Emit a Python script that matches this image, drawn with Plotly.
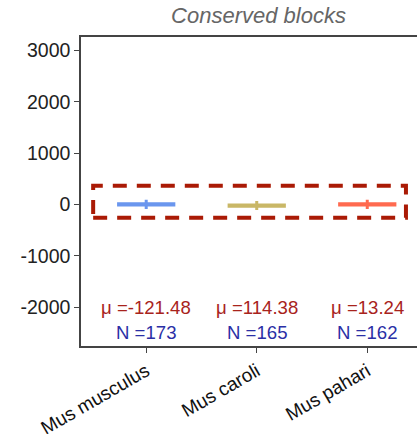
import plotly.graph_objects as go

species = ["Mus musculus", "Mus caroli", "Mus pahari"]
colors = ["#6A96EE", "#C9B766", "#FF6A4F"]
medians = [0, -25, 0]
q1s = [-12, -37, -12]
q3s = [12, -13, 12]
lower = [-90, -110, -90]
upper = [90, 65, 90]
means = ["-121.48", "114.38", "13.24"]
counts = [173, 165, 162]
y_ticks = [-2000, -1000, 0, 1000, 2000, 3000]
y_tick_labels = ["-2000", "-1000", "0", "1000", "2000", "3000"]

FONT = "Liberation Sans, Arial, Helvetica, sans-serif"

fig = go.Figure()
for i, sp in enumerate(species):
    fig.add_trace(go.Box(
        x=[i], q1=[q1s[i]], median=[medians[i]], q3=[q3s[i]],
        lowerfence=[lower[i]], upperfence=[upper[i]],
        name=sp, width=0.5, whiskerwidth=0,
        line=dict(color=colors[i], width=3),
        fillcolor=colors[i], showlegend=False, boxpoints=False,
        hoverinfo="skip",
    ))
    fig.add_annotation(x=i, y=-2000, text="\u03bc =" + means[i], showarrow=False,
                       font=dict(family=FONT, size=18.6, color="#A8231C"),
                       xanchor="center", yanchor="middle")
    fig.add_annotation(x=i, y=-2505, text="N =" + str(counts[i]), showarrow=False,
                       font=dict(family=FONT, size=18.6, color="#2A2FA6"),
                       xanchor="center", yanchor="middle")

# dashed highlight box
fig.add_shape(type="rect", xref="x", yref="y",
              x0=-0.48, x1=2.35, y0=-260, y1=365,
              line=dict(color="#AA1A05", width=4, dash="14px,10px"),
              fillcolor="rgba(0,0,0,0)", layer="above")

fig.update_layout(
    width=417, height=434,
    margin=dict(l=81, r=0, t=37, b=88, autoexpand=False),
    paper_bgcolor="white", plot_bgcolor="white",
    title=dict(text="<i>Conserved blocks</i>", x=0.62, xanchor="center",
               y=0.965, yanchor="middle",
               font=dict(family=FONT, size=22, color="#666666")),
    xaxis=dict(range=[-0.59, 2.45], tickmode="array", tickvals=[0, 1, 2],
               ticktext=species, tickangle=-30, showgrid=False, zeroline=False,
               showline=True, linecolor="#444444", linewidth=1.5, mirror=True,
               ticks="outside", ticklen=5, tickcolor="#444444", automargin=False,
               tickfont=dict(family=FONT, size=19, color="#111111")),
    yaxis=dict(range=[-2760, 3265], tickmode="array", tickvals=y_ticks,
               ticktext=y_tick_labels, automargin=False,
               showgrid=False, zeroline=False,
               showline=True, linecolor="#444444", linewidth=1.5,
               ticks="outside", ticklen=5, tickcolor="#444444",
               tickfont=dict(family=FONT, size=19.5, color="#222222")),
)

fig.write_html("out.html")
